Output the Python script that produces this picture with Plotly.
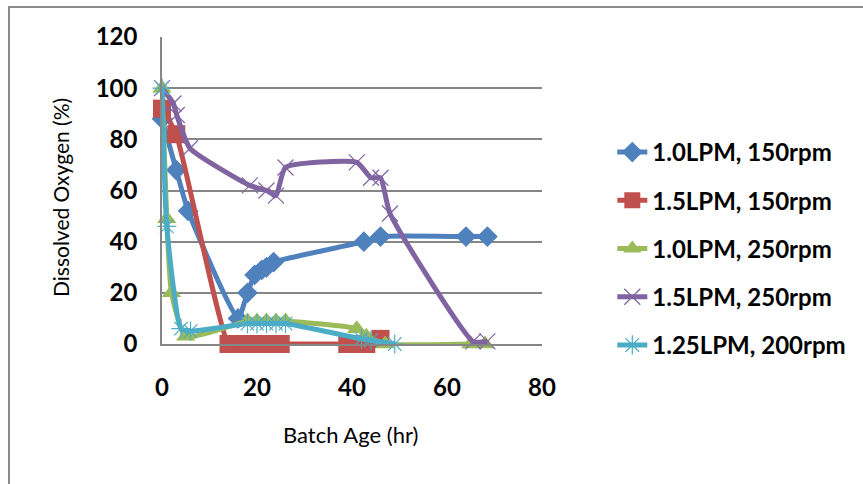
import plotly.graph_objects as go

# Dissolved oxygen profiles for five aeration / agitation settings
series_names = ["1.0LPM, 150rpm", "1.5LPM, 150rpm", "1.0LPM, 250rpm",
                "1.5LPM, 250rpm", "1.25LPM, 200rpm"]

t_a = [0, 3, 5.5, 16, 18, 19.5, 21, 22, 23.5, 42.5, 46, 64, 68.5]
do_a = [88, 68, 52, 10, 20, 27, 29, 30, 32, 40, 42, 42, 42]

t_b = [0, 3, 14, 16, 17.5, 19, 21, 23, 25, 39, 41, 43, 46]
do_b = [92, 82, 0, 0, 0, 0, 0, 0, 0, 0, 0, 0, 2]

t_c = [0, 1, 2, 5, 18, 20, 22, 24, 26, 41, 43, 47, 65, 68]
do_c = [100, 49, 20, 3, 9, 9, 9, 9, 9, 6, 3, 0, 0, 0]

t_d = [0, 2.4, 3.1, 5.9, 18.5, 22, 24, 26, 41, 44, 46, 48, 65.5, 68.5]
do_d = [100, 94, 89.5, 76.5, 62, 60, 58, 69, 71, 65, 65, 51, 1, 1]

t_e = [0, 1, 4, 6, 18, 20, 22, 24, 26, 42, 44, 49]
do_e = [100, 46, 6, 5, 8, 8, 8, 8, 8, 2, 1.5, 0]

x_ticks = [0, 20, 40, 60, 80]
y_ticks = [0, 20, 40, 60, 80, 100, 120]

colors = ["#4F81BD", "#C0504D", "#9BBB59", "#8064A2", "#4BACC6"]
xs = [t_a, t_b, t_c, t_d, t_e]
ys = [do_a, do_b, do_c, do_d, do_e]
markers = [
    dict(symbol="diamond", size=16),
    dict(symbol="square", size=18),
    dict(symbol="triangle-up", size=17),
    dict(symbol="x-thin-open", size=16, line=dict(width=1.2)),
    dict(symbol="asterisk-open", size=16, line=dict(width=1.2)),
]

fig = go.Figure()
for i in range(5):
    m = dict(markers[i])
    m["color"] = colors[i]
    if "line" in m:
        m["line"] = dict(m["line"], color=colors[i])
    fig.add_trace(go.Scatter(
        x=xs[i], y=ys[i], name=series_names[i], mode="lines+markers",
        line=dict(color=colors[i], width=5, shape="spline", smoothing=0.5),
        marker=m, legendgroup=f"g{i}", cliponaxis=False,
    ))

grid = "#868686"
fig.update_layout(
    width=863, height=484,
    margin=dict(l=162, r=321, t=37, b=140),
    paper_bgcolor="white", plot_bgcolor="white",
    font=dict(family="Lato", color="black"),
    showlegend=True,
    legend=dict(x=1.185, y=0.697, xanchor="left", yanchor="top",
                font=dict(family="Lato", size=24, color="black", weight="bold"),
                tracegroupgap=14, bgcolor="rgba(0,0,0,0)"),
    xaxis=dict(range=[0, 80], tickvals=x_ticks, showgrid=False,
               showline=True, linecolor=grid, linewidth=1.5, zeroline=False,
               ticks="", ticklabelstandoff=21,
               tickfont=dict(size=24, weight="bold")),
    yaxis=dict(range=[0, 120], tickvals=y_ticks, showgrid=True, gridcolor=grid,
               gridwidth=1.5, showline=True, linecolor=grid, linewidth=1.5,
               zeroline=False, ticks="", ticklabelstandoff=18,
               tickfont=dict(size=24, weight="bold")),
)

# axis titles
fig.add_annotation(text="Batch Age (hr)", xref="paper", yref="paper",
                   x=(350 - 162) / 380, y=(344 - 434) / 307,
                   xanchor="center", yanchor="middle", showarrow=False,
                   font=dict(family="Lato", size=22, color="black"))
fig.add_annotation(text="Dissolved Oxygen (%)", xref="paper", yref="paper",
                   x=(60 - 162) / 380, y=(344 - 198) / 307, textangle=-90,
                   xanchor="center", yanchor="middle", showarrow=False,
                   font=dict(family="Lato", size=21, color="black"))

# outer chart frame
fig.add_shape(type="rect", xref="paper", yref="paper",
              x0=(9 - 162) / 380, x1=(880 - 162) / 380,
              y0=(344 - 500) / 307, y1=(344 - 7) / 307,
              line=dict(color="#8a8a8a", width=2), fillcolor="rgba(0,0,0,0)",
              layer="below")

fig.write_html("out.html")
